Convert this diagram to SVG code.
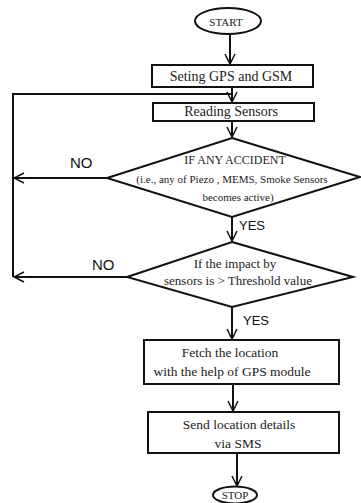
<svg xmlns="http://www.w3.org/2000/svg" width="361" height="503" viewBox="0 0 361 503">
<style>
.shape{fill:#fff;stroke:#111;stroke-width:2}
.t{font-family:'Liberation Serif', 'DejaVu Serif', serif;fill:#222;text-anchor:middle}
.h{font-family:'Liberation Sans', sans-serif;fill:#111;text-anchor:start}
.c{fill:none;stroke:#111;stroke-width:2}
</style>
<defs>
<marker id="ah" viewBox="0 0 12 12" refX="11" refY="6" markerWidth="12" markerHeight="12" markerUnits="userSpaceOnUse" orient="auto">
<path d="M1,1 L11,6 L1,11" fill="none" stroke="#111" stroke-width="1.5"/>
</marker>
</defs>
<rect width="361" height="503" fill="#fff"/>
<g id="connectors">
<path class="c" d="M230,34 V64" marker-end="url(#ah)"/>
<path class="c" d="M232,87 V102" marker-end="url(#ah)"/>
<path class="c" d="M13,277 V94 H232"/>
<path class="c" d="M232,121 V137" marker-end="url(#ah)"/>
<path class="c" d="M107,178 H14" marker-end="url(#ah)"/>
<path class="c" d="M232,217 V241" marker-end="url(#ah)"/>
<path class="c" d="M127,277 H14" marker-end="url(#ah)"/>
<path class="c" d="M232,307 V339" marker-end="url(#ah)"/>
<path class="c" d="M233,384 V411" marker-end="url(#ah)"/>
<path class="c" d="M237,453 V486" marker-end="url(#ah)"/>
<text class="h" x="70" y="168" font-size="15">NO</text>
<text class="h" x="239" y="230" font-size="13">YES</text>
<text class="h" x="92" y="270" font-size="15">NO</text>
<text class="h" x="243" y="325" font-size="13">YES</text>
</g>
<g id="start">
<ellipse class="shape" cx="228" cy="21" rx="33" ry="13"/>
<text class="t" x="226" y="26" font-size="11">START</text>
</g>
<g id="setup">
<rect class="shape" x="152" y="65" width="161" height="22"/>
<text class="t" x="231" y="81" font-size="14">Seting GPS and GSM</text>
</g>
<g id="read">
<rect class="shape" x="153" y="103" width="161" height="18"/>
<text class="t" x="231" y="116" font-size="14">Reading Sensors</text>
</g>
<g id="accident">
<polygon class="shape" points="232,138 360,177 232,217 107,178"/>
<text class="t" x="235" y="164" font-size="12">IF ANY ACCIDENT</text>
<text class="t" x="232" y="183" font-size="11">(i.e., any of Piezo , MEMS, Smoke Sensors</text>
<text class="t" x="238" y="201" font-size="11">becomes active)</text>
</g>
<g id="threshold">
<polygon class="shape" points="232,242 353,277 232,307 127,277"/>
<text class="t" x="235" y="268" font-size="13">If the impact by</text>
<text class="t" x="238" y="285" font-size="13">sensors is &gt; Threshold value</text>
</g>
<g id="fetch">
<rect class="shape" x="144" y="340" width="195" height="44"/>
<text class="t" x="230" y="357" font-size="13.5">Fetch the location</text>
<text class="t" x="232" y="376" font-size="13.5">with the help of GPS module</text>
</g>
<g id="send">
<rect class="shape" x="148" y="412" width="191" height="41"/>
<text class="t" x="239" y="429" font-size="13.5">Send location details</text>
<text class="t" x="238" y="448" font-size="13.5">via SMS</text>
</g>
<g id="stop">
<ellipse class="shape" cx="235" cy="495" rx="22" ry="8.5"/>
<text class="t" x="235" y="499" font-size="11">STOP</text>
</g>
</svg>
